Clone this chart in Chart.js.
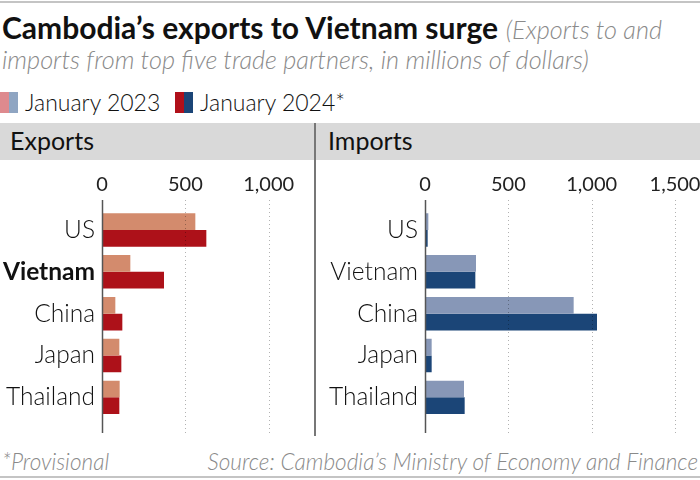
<!DOCTYPE html>
<html>
<head>
<meta charset="utf-8">
<script src="https://cdn.jsdelivr.net/npm/chart.js@4.4.1/dist/chart.umd.min.js"></script>
<style>
  body { margin: 0; width: 700px; height: 480px; overflow: hidden; background: #fff; font-family: Lato, sans-serif; position: relative; }
  .abs { position: absolute; }
  #title { left: 2px; top: 13px; width: 696px; font-size: 30px; line-height: 28px; color: #111; }
  #title b { font-weight: 700; }
  #title span { font-style: italic; font-weight: 300; color: #8a8a8a; font-size: 25.3px; }
  .legend { top: 88px; font-size: 23px; font-weight: 300; color: #111; display: flex; align-items: center; }
  .sw { width: 9px; height: 21px; display: inline-block; }
  .band { left: 0; top: 123px; width: 700px; height: 37px; background: #d9d9d9; }
  .head { top: 125px; font-size: 25px; color: #111; }
  .foot { top: 448px; font-size: 22.6px; font-style: italic; font-weight: 300; color: #8a8a8a; }
</style>
</head>
<body>
<div class="abs" style="left:0;top:1px;width:700px;height:2px;background:#c4c4c4"></div>
<div class="abs" id="title"><b>Cambodia’s exports to Vietnam surge</b> <span>(Exports to and imports from top five trade partners, in millions of dollars)</span></div>

<div class="abs legend" style="left:0">
  <span class="sw" style="background:#de8a8e"></span><span class="sw" style="background:#8fa5c2"></span>
  <span style="margin-left:7px">January 2023</span>
</div>
<div class="abs legend" style="left:175px">
  <span class="sw" style="background:#b0101a"></span><span class="sw" style="background:#1b4577"></span>
  <span style="margin-left:7px">January 2024*</span>
</div>

<div class="abs band"></div>
<div class="abs head" style="left:10px">Exports</div>
<div class="abs head" style="left:328px">Imports</div>
<div class="abs" style="left:314px;top:123px;width:2px;height:313px;background:#777"></div>

<canvas class="abs" id="exp" width="314" height="275" style="left:0;top:165px"></canvas>
<canvas class="abs" id="imp" width="424" height="275" style="left:316px;top:165px"></canvas>

<div class="abs foot" style="left:2px">*Provisional</div>
<div class="abs foot" style="right:2px">Source: Cambodia’s Ministry of Economy and Finance</div>
<div class="abs" style="left:0;top:476px;width:700px;height:2px;background:#c4c4c4"></div>

<script>
const partners = ['US', 'Vietnam', 'China', 'Japan', 'Thailand'];
const highlight = 'Vietnam';

const exports2023 = [560, 170, 80, 104, 106];
const exports2024 = [626, 372, 122, 116, 104];
const imports2023 = [20, 306, 892, 40, 234];
const imports2024 = [16, 302, 1032, 40, 238];

const exportTicks = [0, 500, 1000];
const importTicks = [0, 500, 1000, 1500];

// gridlines run past the chart area, above and below the bars
const linesPlugin = {
    id: 'lines',
    afterDatasetsDraw(chart) {
        const ctx = chart.ctx;
        const x = chart.scales.x;
        const top = 35, bottom = 268;
        ctx.save();
        x.ticks.forEach(t => {
            const px = Math.round(x.getPixelForValue(t.value)) + 0.5;
            ctx.beginPath();
            if (t.value === 0) {
                ctx.setLineDash([]);
                ctx.strokeStyle = '#555';
                ctx.lineWidth = 1.5;
            } else {
                ctx.setLineDash([1, 3]);
                ctx.strokeStyle = 'rgba(0,0,0,0.3)';
                ctx.lineWidth = 1;
            }
            ctx.moveTo(px, top);
            ctx.lineTo(px, bottom);
            ctx.stroke();
        });
        ctx.restore();
    }
};

function makeChart(id, d2023, d2024, colors, tickVals, max, axisWidth, padRight, bold) {
    return new Chart(document.getElementById(id), {
        type: 'bar',
        data: {
            labels: partners,
            datasets: [
                { label: 'January 2023', data: d2023, backgroundColor: colors[0] },
                { label: 'January 2024*', data: d2024, backgroundColor: colors[1] }
            ]
        },
        options: {
            indexAxis: 'y',
            responsive: false,
            animation: false,
            layout: { padding: { left: 0, right: padRight, top: 0, bottom: 21 } },
            datasets: { bar: { categoryPercentage: 0.8, barPercentage: 1.0, borderWidth: 0 } },
            plugins: { legend: { display: false }, tooltip: { enabled: false } },
            scales: {
                x: {
                    position: 'top',
                    min: 0,
                    max: max,
                    grid: { display: false, drawTicks: false },
                    border: { display: false },
                    afterBuildTicks: s => { s.ticks = tickVals.map(v => ({ value: v })); },
                    afterFit: s => { s.height = 44; },
                    ticks: {
                        padding: 12,
                        color: '#222',
                        font: { family: 'Lato', size: 20, weight: 400 },
                        callback: v => v.toLocaleString('en-US')
                    }
                },
                y: {
                    grid: { display: false, drawTicks: false },
                    border: { display: false },
                    afterFit: s => { s.width = axisWidth; },
                    ticks: {
                        padding: 7,
                        color: '#111',
                        font: c => ({ family: 'Lato', size: 24.5,
                            weight: (bold && partners[c.index] === highlight) ? 700 : 300 })
                    }
                }
            }
        },
        plugins: [linesPlugin]
    });
}

makeChart('exp', exports2023, exports2024, ['#d38b6d', '#ad1119'], exportTicks, 1272, 102, 0, true);
makeChart('imp', imports2023, imports2024, ['#8797b7', '#1b4577'], importTicks, 1650, 109, 40, false);
</script>
</body>
</html>
